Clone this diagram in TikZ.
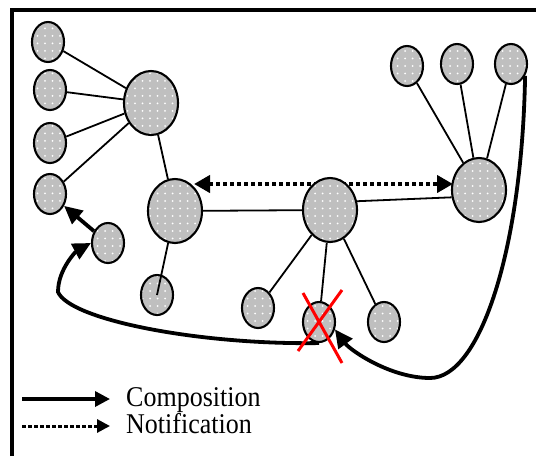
\documentclass[tikz,border=0pt]{standalone}
\usepackage{fontspec}
\setmainfont{Liberation Serif}
\usetikzlibrary{shapes.geometric,arrows.meta,patterns.meta}
\begin{document}
\begin{tikzpicture}[x=1pt,y=-1pt,
  blob/.style={ellipse, draw=black, line width=2.1pt, inner sep=0pt,
    preaction={fill=gray!50}, pattern={Dots[distance=7.5pt,radius=1pt]},
    pattern color=white},
  small/.style={blob, minimum width=32pt, minimum height=40pt},
  big/.style={blob, minimum width=54pt, minimum height=64pt},
  link/.style={line width=1.8pt},
  comp/.style={line width=3.8pt, -{Triangle[length=18pt,width=17pt]}},
  notif/.style={line width=4pt, dash pattern=on 4pt off 3pt,
    {Triangle[length=16pt,width=17pt]}-{Triangle[length=16pt,width=17pt]}},
  cross/.style={red, line width=3pt},
  legendtext/.style={anchor=base west, inner sep=0pt,
    font=\fontsize{26}{30}\selectfont},
]
\useasboundingbox (0,0) rectangle (536,456);
\fill[white] (0,0) rectangle (536,456);

% frame
\draw[line width=3.5pt] (12,456) -- (12,10) -- (536,10);

% notification link (behind the central node)
\coordinate (nL) at (194,184);
\coordinate (nR) at (453,184);
\draw[notif] (nL) -- (nR);

% components
\node[small] (A1) at (48,42) {};
\node[small] (A2) at (50,90) {};
\node[small] (A3) at (50,143) {};
\node[small] (A4) at (50,194) {};
\node[big]   (B)  at (151,103) {};
\node[big]   (C)  at (175,211) {};
\node[small] (D)  at (108,243) {};
\node[small] (E)  at (157,295) {};
\node[big]   (F)  at (330,210) {};
\node[big]   (G)  at (479,190) {};
\node[small] (H)  at (258,308) {};
\node[small] (X)  at (319,322) {};
\node[small] (I)  at (384,322) {};
\node[small] (J1) at (407,66) {};
\node[small] (J2) at (457,64) {};
\node[small] (J3) at (511,64) {};

% structural links
\draw[link] (A1) -- (B);
\draw[link] (A2) -- (B);
\draw[link] (A3) -- (B);
\draw[link] (A4) -- (B);
\draw[link] (B) -- (C);
\draw[link] (C) -- (E.center);
\draw[link] (C) -- (F);
\draw[link] (F.18) -- (G.195);
\draw[link] (F) -- (H);
\draw[link] (F) -- (X);
\draw[link] (F) -- (I);
\draw[link] (G) -- (J1);
\draw[link] (G) -- (J2);
\draw[link] (G) -- (J3);

% composition links
\draw[comp] (D) -- (A4);
\draw[comp] (X.south) .. controls (200,345) and (70,320) .. (58,292)
  .. controls (58,268) and (78,250) .. (D.west);
\draw[comp] (J3.-40) .. controls (522,250) and (480,378) .. (430,378)
  .. controls (390,378) and (350,350) .. (X.-25);

% removed component
\draw[cross] ([shift={(-16,-29)}]X.center) -- ([shift={(23,41)}]X.center);
\draw[cross] ([shift={(23,-32)}]X.center) -- ([shift={(-21,29)}]X.center);

% legend
\coordinate (l1a) at (22,399);
\coordinate (l1b) at (110,399);
\coordinate (l2a) at (22,426);
\coordinate (l2b) at (110,426);
\draw[line width=3.4pt, -{Triangle[length=15pt,width=15pt]}] (l1a) -- (l1b);
\draw[line width=3pt, dash pattern=on 4pt off 2pt,
  -{Triangle[length=13pt,width=13pt]}] (l2a) -- (l2b);
\node[legendtext] (lc) at (126,406) {\scalebox{1}[1.1]{Composition}};
\node[legendtext] (ln) at (126,433) {\scalebox{1}[1.1]{Notification}};
\end{tikzpicture}
\end{document}
